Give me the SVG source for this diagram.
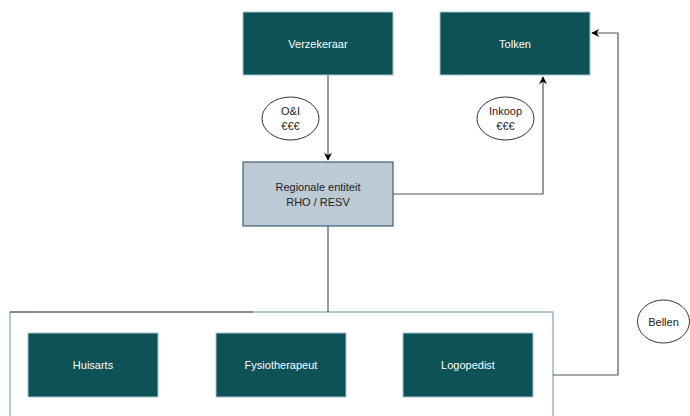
<svg xmlns="http://www.w3.org/2000/svg" width="690" height="416" viewBox="0 0 690 416">
<defs>
<marker id="arr" viewBox="0 0 10 10" refX="9" refY="5" markerWidth="8" markerHeight="8" markerUnits="userSpaceOnUse" orient="auto">
<path d="M0,0 L10,5 L0,10 L3,5 Z" fill="#000"/>
</marker>
<style>
.dark{fill:#0c5257;stroke:#a7c3d1;stroke-width:1}
.lt{fill:#fff;font-family:"Liberation Sans",Arial,sans-serif;font-size:11px;text-anchor:middle}
.bk{fill:#222;font-family:"Liberation Sans",Arial,sans-serif;font-size:11px;text-anchor:middle}
.ell{fill:#fff;stroke:#333;stroke-width:1}
.con{fill:none;stroke:#555;stroke-width:1.2}
</style>
</defs>
<rect width="690" height="416" fill="#fff"/>
<g id="container">
<rect x="10" y="312" width="543" height="110" fill="#fff" stroke="#7fa2b8" stroke-width="1.2"/>
</g>
<g id="connectors">
<path class="con" d="M328,75 V160" marker-end="url(#arr)"/>
<path class="con" d="M393,194 H543 V77" marker-end="url(#arr)"/>
<path class="con" d="M328,226 V312"/>
<path class="con" d="M10,312 H253"/>
<path class="con" d="M553,375 H618 V33 H592" marker-end="url(#arr)"/>
</g>
<g id="verzekeraar">
<rect class="dark" x="243" y="12" width="150" height="63"/>
<text class="lt" x="318" y="48">Verzekeraar</text>
</g>
<g id="tolken">
<rect class="dark" x="440" y="12" width="150" height="63"/>
<text class="lt" x="515" y="48">Tolken</text>
</g>
<g id="regionaal">
<rect x="243" y="162" width="150" height="64" fill="#bccad5" stroke="#23445d" stroke-width="1"/>
<text class="bk" x="318" y="191">Regionale entiteit</text>
<text class="bk" x="318" y="206">RHO / RESV</text>
</g>
<g id="oi">
<ellipse class="ell" cx="290.5" cy="118.5" rx="28.5" ry="21.5"/>
<text class="bk" x="290.5" y="115">O&amp;I</text>
<text class="bk" x="290.5" y="130">€€€</text>
</g>
<g id="inkoop">
<ellipse class="ell" cx="505.5" cy="118.5" rx="28.5" ry="21.5"/>
<text class="bk" x="505.5" y="115">Inkoop</text>
<text class="bk" x="505.5" y="130">€€€</text>
</g>
<g id="bellen">
<ellipse class="ell" cx="663.5" cy="321.5" rx="26" ry="21.5"/>
<text class="bk" x="663.5" y="325.5">Bellen</text>
</g>
<g id="huisarts">
<rect class="dark" x="28" y="333" width="130" height="64"/>
<text class="lt" x="93" y="369">Huisarts</text>
</g>
<g id="fysiotherapeut">
<rect class="dark" x="216" y="333" width="130" height="64"/>
<text class="lt" x="281" y="369">Fysiotherapeut</text>
</g>
<g id="logopedist">
<rect class="dark" x="403" y="333" width="130" height="64"/>
<text class="lt" x="468" y="369">Logopedist</text>
</g>
</svg>
